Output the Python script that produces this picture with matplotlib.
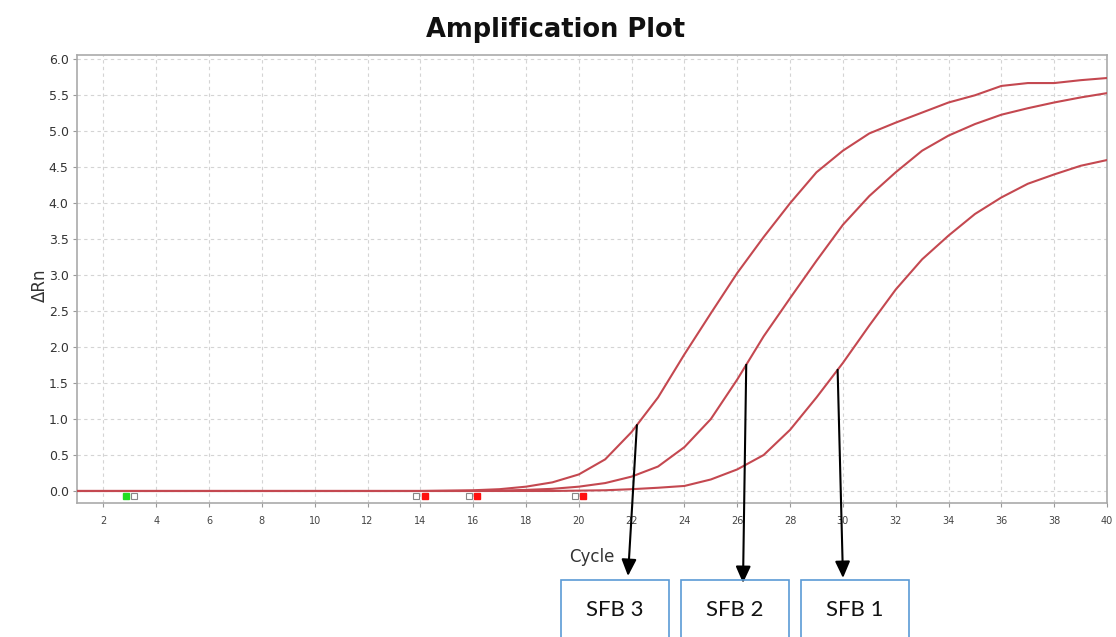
import numpy as np
import matplotlib
matplotlib.use("Agg")
import matplotlib.pyplot as plt
from matplotlib.patches import Rectangle

# Amplification curves (delta Rn per cycle) for the three samples
cycles = list(range(1, 41))
sfb3 = [0.0] * 14 + [0.005, 0.01, 0.025, 0.06, 0.12, 0.23, 0.44, 0.82, 1.30, 1.90,
                     2.47, 3.03, 3.53, 4.00, 4.43, 4.73, 4.97, 5.12, 5.26, 5.40,
                     5.50, 5.63, 5.67, 5.67, 5.71, 5.74]
sfb2 = [0.0] * 16 + [0.005, 0.015, 0.03, 0.06, 0.11, 0.20, 0.34, 0.61, 1.00, 1.55,
                     2.15, 2.68, 3.20, 3.70, 4.10, 4.43, 4.73, 4.94, 5.10, 5.23,
                     5.32, 5.40, 5.47, 5.53]
sfb1 = [0.0] * 19 + [0.005, 0.01, 0.025, 0.045, 0.07, 0.16, 0.30, 0.50, 0.85, 1.30,
                     1.78, 2.30, 2.80, 3.22, 3.55, 3.85, 4.08, 4.27, 4.40, 4.52, 4.60]

# Baseline start / end markers
start_cycles = [3]
end_cycles = [14, 16, 20]

# Callouts: label and cycle where the arrow leaves each curve
labels = ["SFB 3", "SFB 2", "SFB 1"]
callout_cycles = [22.2, 26.34, 29.8]

x_ticks = list(range(2, 41, 2))
y_ticks = [i * 0.5 for i in range(13)]

W, H = 1116, 637
fig = plt.figure(figsize=(W / 100, H / 100), dpi=100)
ax = fig.add_axes([77 / W, 1 - 503 / H, (1107 - 77) / W, (503 - 55) / H])

curve_color = "#c44850"
for series in (sfb1, sfb2, sfb3):
    ax.plot(cycles, series, color=curve_color, lw=1.5, zorder=3,
            solid_joinstyle="round")

# baseline markers
off = 0.16
ymk = -0.07
ms = 5
ax.plot([c - off for c in start_cycles], [ymk] * len(start_cycles), "s",
        ms=ms, mfc="#22dd22", mec="#22dd22", zorder=4)
ax.plot([c + off for c in start_cycles], [ymk] * len(start_cycles), "s",
        ms=ms, mfc="white", mec="#888888", mew=0.8, zorder=4)
ax.plot([c - off for c in end_cycles], [ymk] * len(end_cycles), "s",
        ms=ms, mfc="white", mec="#888888", mew=0.8, zorder=4)
ax.plot([c + off for c in end_cycles], [ymk] * len(end_cycles), "s",
        ms=ms, mfc="#ff1010", mec="#ff1010", zorder=4)

ax.set_xlim(1, 40)
ax.set_ylim(-0.167, 6.06)
ax.set_xticks(x_ticks)
ax.set_yticks(y_ticks)
ax.set_yticklabels([f"{v:.1f}" for v in y_ticks])
ax.grid(True, color="#d4d4d4", linestyle=(0, (3, 3)), lw=0.8)
ax.set_axisbelow(True)
for s in ax.spines.values():
    s.set_color("#aaaaaa")
    s.set_linewidth(1.2)
ax.tick_params(axis="x", labelsize=7, colors="#999999", labelcolor="#444444",
               length=3, pad=6)
ax.tick_params(axis="y", labelsize=9, colors="#999999", labelcolor="#333333",
               length=3, pad=3)

fig.text(556 / W, 1 - 30 / H, "Amplification Plot", ha="center", va="center",
         fontsize=18.5, fontweight="bold", color="#111111")
fig.text(40 / W, 1 - 285 / H, "\u0394Rn", ha="center", va="center",
         rotation=90, fontsize=12, color="#333333")
fig.text(592 / W, 1 - 557 / H, "Cycle", ha="center", va="center",
         fontsize=12, color="#333333")

# label boxes
box_left = [561, 681, 801]
box_w = 108
arrow_tips = [(628, 576), (743, 583), (843, 578)]
series_for = [sfb3, sfb2, sfb1]
for lab, cx, bl, tip, ser in zip(labels, callout_cycles, box_left, arrow_tips,
                                  series_for):
    fig.patches.append(Rectangle((bl / W, -0.05), box_w / W, (1 - 580 / H) + 0.05,
                                 transform=fig.transFigure, fill=False,
                                 edgecolor="#5b9bd5", lw=1.2))
    fig.text((bl + box_w / 2) / W, 1 - 610 / H, lab, ha="center", va="center",
             fontsize=16, family="Lato", color="#111111")
    cy = float(np.interp(cx, cycles, ser))
    ax.annotate("", xy=(tip[0] / W, 1 - tip[1] / H), xycoords="figure fraction",
                xytext=(cx, cy), textcoords="data",
                arrowprops=dict(arrowstyle="-|>,head_length=1.0,head_width=0.45",
                                color="black", lw=1.5, shrinkA=0, shrinkB=0),
                annotation_clip=False, zorder=5)

fig.savefig("out.png", dpi=100)
